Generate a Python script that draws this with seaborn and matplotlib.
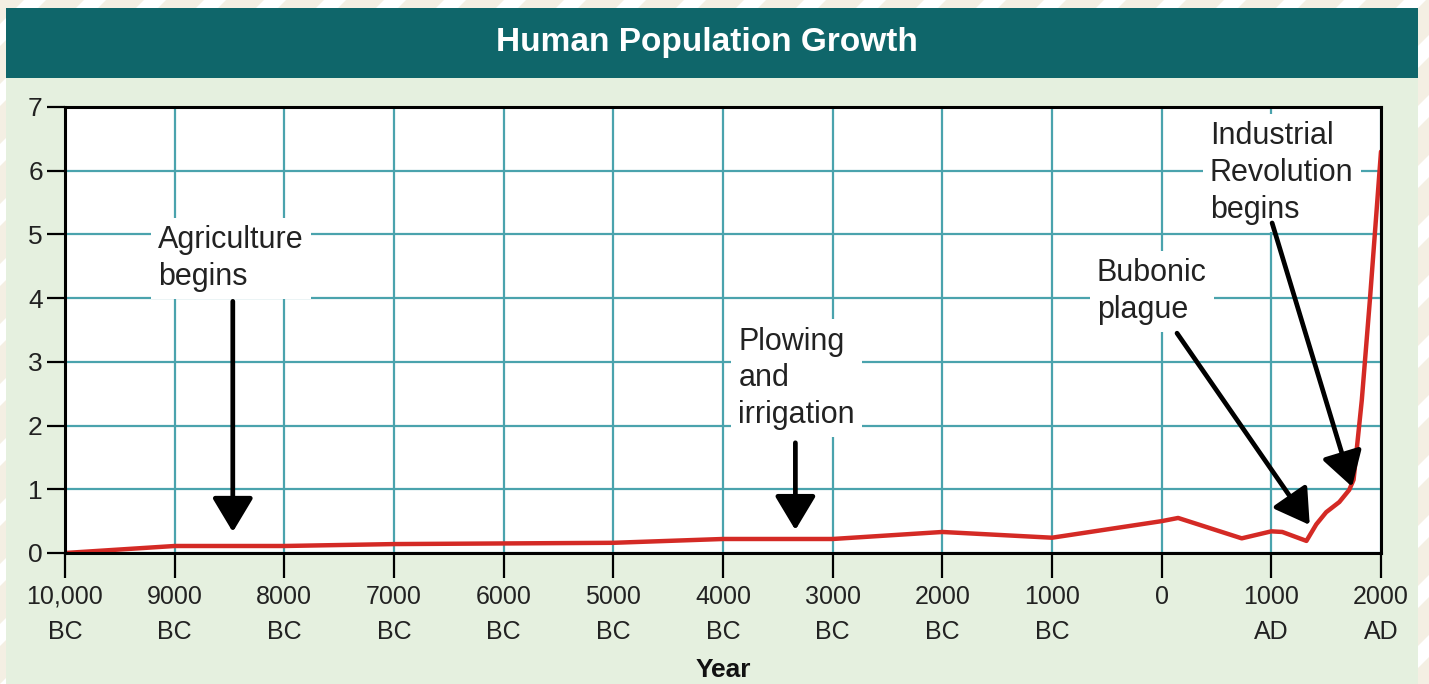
import matplotlib
matplotlib.use('Agg')
import matplotlib.pyplot as plt
import matplotlib.patches as mpatches
import seaborn as sns
import pandas as pd
import numpy as np

# population (billions)
years = [-10000, -9000, -8000, -7000, -6000, -5000, -4000, -3000, -2000, -1000,
         0, 150, 730, 1000, 1100, 1320, 1410, 1500, 1620, 1710, 1750, 1825, 1900, 2000]
population = [0.0, 0.11, 0.11, 0.14, 0.15, 0.16, 0.22, 0.22, 0.33, 0.24,
              0.5, 0.55, 0.23, 0.34, 0.33, 0.19, 0.45, 0.64, 0.8, 0.99, 1.15, 2.4, 4.0, 6.3]

xticks = list(range(-10000, 2001, 1000))
xticklabels = ['10,000\nBC', '9000\nBC', '8000\nBC', '7000\nBC', '6000\nBC', '5000\nBC',
               '4000\nBC', '3000\nBC', '2000\nBC', '1000\nBC', '0', '1000\nAD', '2000\nAD']
yticks = list(range(0, 8))

# (text, text x, text y, arrow tail, arrow head)
events = [
    ('Agriculture\nbegins', -9150, 4.62, (-8470, 3.95), (-8470, 0.33)),
    ('Plowing\nand\nirrigation', -3860, 2.74, (-3340, 1.73), (-3340, 0.36)),
    ('Bubonic\nplague', -590, 4.10, (140, 3.45), (1350, 0.44)),
    ('Industrial\nRevolution\nbegins', 440, 5.96, (1007, 5.18), (1736, 1.04)),
]

df = pd.DataFrame({'Year': years, 'Population': population})

sns.set_theme(style='white')
plt.rcParams['font.family'] = ['Liberation Sans', 'DejaVu Sans']

W, H = 1429, 684
fig = plt.figure(figsize=(W / 100, H / 100), dpi=100)
fig.patch.set_facecolor('#f4efe3')

# decorative diagonal stripes on the outer border
for k in range(-20, 40):
    x0 = k * 60
    stripe = mpatches.Polygon([(x0, 0), (x0 + 22, 0), (x0 + 22 + H, H), (x0 + H, H)],
                              closed=True, transform=None, facecolor='white',
                              edgecolor='none', zorder=-3)
    fig.patches.append(stripe)

# green panel and teal title bar
fig.patches.append(mpatches.Rectangle((6 / W, 0), 1412 / W, (H - 78) / H,
                                      transform=fig.transFigure, facecolor='#e5f0df',
                                      edgecolor='none', zorder=-2))
fig.patches.append(mpatches.Rectangle((6 / W, (H - 78) / H), 1412 / W, 70 / H,
                                      transform=fig.transFigure, facecolor='#0f666a',
                                      edgecolor='none', zorder=-2))
fig.text(707 / W, (H - 43) / H, 'Human Population Growth', color='white',
         fontsize=24, fontweight='bold', ha='center', va='center', zorder=3)

ax = fig.add_axes([65 / W, (H - 553) / H, 1316 / W, 446 / H])
ax.set_facecolor('white')

sns.lineplot(data=df, x='Year', y='Population', color='#d42a25', linewidth=3.2,
             ax=ax, zorder=4)

ax.set_xlim(-10000, 2000)
ax.set_ylim(0, 7)
ax.set_xticks(xticks)
ax.set_xticklabels(xticklabels, fontsize=18, color='#222222', linespacing=1.6)
ax.set_yticks(yticks)
ax.set_yticklabels([str(v) for v in yticks], fontsize=19, color='#222222')
ax.tick_params(axis='x', direction='out', length=18, width=1.6, color='black',
               pad=5, bottom=True)
ax.tick_params(axis='y', direction='out', length=13, width=1.6, color='black',
               pad=3, left=True)
ax.grid(True, color='#4aa3ad', linewidth=1.6)
ax.set_axisbelow(True)
for s in ax.spines.values():
    s.set_color('black')
    s.set_linewidth(2.2)
    s.set_visible(True)
    s.set_zorder(8)

ax.set_xlabel('Year', fontsize=19, fontweight='bold', color='#111111', labelpad=10)
ax.set_ylabel('')

for label, tx, ty, tail, head in events:
    ax.text(tx, ty, label, fontsize=22, color='#222222', ha='left', va='center',
            linespacing=1.3, zorder=5,
            bbox=dict(facecolor='white', edgecolor='none', pad=5))
    ax.annotate('', xy=head, xytext=tail,
                arrowprops=dict(arrowstyle='-|>,head_length=1.0,head_width=0.6',
                                color='black', lw=3.4, mutation_scale=21,
                                shrinkA=0, shrinkB=0),
                zorder=6)

fig.savefig('out.png', dpi=100, facecolor=fig.get_facecolor())
